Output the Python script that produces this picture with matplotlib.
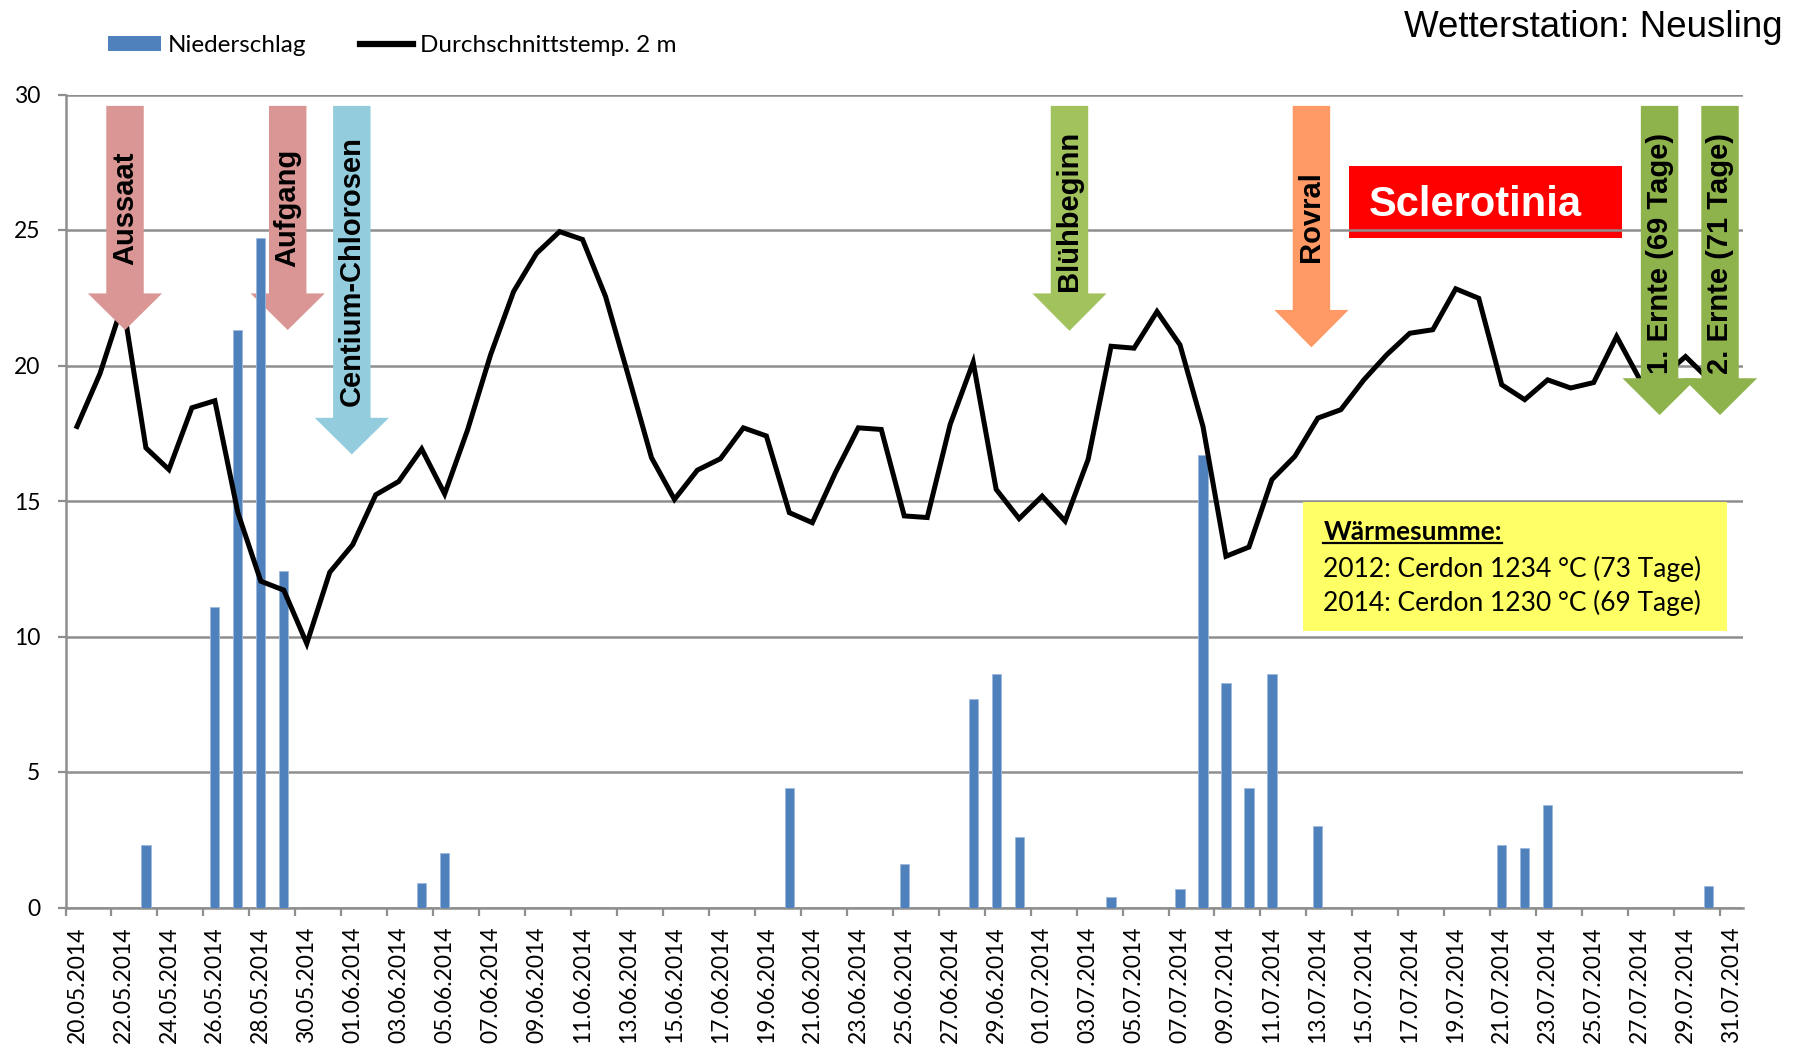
import matplotlib
matplotlib.use("Agg")
import matplotlib.pyplot as plt
import numpy as np
import pandas as pd
from matplotlib.patches import FancyArrow, Rectangle, Patch
from matplotlib.lines import Line2D
from matplotlib.transforms import IdentityTransform

# ---------------- data ----------------
dates = [d.strftime("%d.%m.%Y") for d in pd.date_range("2014-05-20", "2014-07-31", freq="D")]

niederschlag = [
    0, 0, 0, 2.3, 0, 0, 11.1, 21.3, 24.7, 12.4,          # 20.05-29.05
    0, 0, 0, 0, 0, 0.9, 2.0, 0, 0, 0,                    # 30.05-08.06
    0, 0, 0, 0, 0, 0, 0, 0, 0, 0,                        # 09.06-18.06
    0, 4.4, 0, 0, 0, 0, 1.6, 0, 0, 7.7,                  # 19.06-28.06
    8.6, 2.6, 0, 0, 0, 0.4, 0, 0, 0.7, 16.7,             # 29.06-08.07
    8.3, 4.4, 8.6, 0, 3.0, 0, 0, 0, 0, 0,                # 09.07-18.07
    0, 0, 2.3, 2.2, 3.8, 0, 0, 0, 0, 0,                  # 19.07-28.07
    0, 0.8, 0                                            # 29.07-31.07
]

temperatur = [
    17.75, 19.7, 22.3, 16.96, 16.16, 18.44, 18.7, 14.57, 12.04, 11.71,
    9.74, 12.37, 13.39, 15.23, 15.72, 16.92, 15.26, 17.63, 20.4, 22.73,
    24.14, 24.94, 24.65, 22.55, 19.6, 16.6, 15.06, 16.14, 16.56, 17.7,
    17.4, 14.57, 14.2, 16.04, 17.7, 17.64, 14.45, 14.39, 17.83, 20.12,
    15.43, 14.35, 15.18, 14.26, 16.53, 20.71, 20.64, 21.99, 20.76, 17.75,
    12.96, 13.3, 15.79, 16.65, 18.06, 18.37, 19.47, 20.4, 21.19, 21.32,
    22.83, 22.48, 19.29, 18.74, 19.47, 19.17, 19.37, 21.07, 19.5, 19.6,
    20.33, 19.5, 19.8
]

serien = ["Niederschlag", "Durchschnittstemp. 2 m"]
y_ticks = [0, 5, 10, 15, 20, 25, 30]

# event arrows: label, x position (category index), tip value, head start value, colour
pfeil_labels = ["Aussaat", "Aufgang", "Centium-Chlorosen", "Blühbeginn", "Rovral",
                "1. Ernte (69 Tage)", "2. Ernte (71 Tage)"]
pfeil_x = [2.09, 9.17, 11.96, 43.19, 53.72, 68.87, 71.5]
pfeil_tip = [21.31, 21.31, 16.72, 21.28, 20.67, 18.17, 18.17]
pfeil_head = [22.66, 22.66, 18.07, 22.66, 22.05, 19.53, 19.53]
pfeil_text_y = [25.8, 25.8, 23.5, 25.7, 25.5, 24.15, 24.15]
pfeil_farben = ["#D99694", "#D99694", "#93CDDD", "#A2C25E", "#FF9966", "#8FB34C", "#8FB34C"]
pfeil_z = [5, 2.5, 5, 5, 5, 5, 5]

titel = "Wetterstation: Neusling"
waerme_titel = "Wärmesumme:"
waerme_zeilen = ["2012: Cerdon 1234 °C (73 Tage)", "2014: Cerdon 1230 °C (69 Tage)"]

# ---------------- figure ----------------
W, H = 1796, 1052
fig = plt.figure(figsize=(W / 100, H / 100), dpi=100)
ax = fig.add_axes([65.5 / W, 1 - 907.5 / H, (1743 - 65.5) / W, (907.5 - 94.5) / H])

grid_c = "#8E8E8E"
x = np.arange(len(dates))
ax.set_xlim(-0.5, len(dates) - 0.5)
ax.set_ylim(0, 30)

ax.bar(x, niederschlag, width=0.4, color="#4F81BD", edgecolor="#9DB9DC", linewidth=0.6, zorder=3)
ax.plot(x, temperatur, color="black", lw=3.6, zorder=4, solid_joinstyle="miter")

# grid & spines
ax.set_yticks(y_ticks)
ax.yaxis.grid(True, color=grid_c, lw=1.8)
ax.set_axisbelow(True)
for s in ["top", "right"]:
    ax.spines[s].set_visible(False)
for s in ["left", "bottom"]:
    ax.spines[s].set_color(grid_c)
    ax.spines[s].set_linewidth(1.8)

tick_font = "Lato"
ax.tick_params(axis="y", length=6, width=1.6, color=grid_c, labelsize=16.5, pad=12)
for lab in ax.get_yticklabels():
    lab.set_family(tick_font)

ax.set_xticks(np.arange(-0.5, len(dates) - 1, 2))
ax.set_xticklabels([])
ax.tick_params(axis="x", which="major", length=6, width=1.6, color=grid_c)
ax.set_xticks(x[::2], minor=True)
ax.set_xticklabels(dates[::2], minor=True, rotation=90, fontsize=16.5, family=tick_font)
ax.tick_params(axis="x", which="minor", length=0, pad=13.5)

# red Sclerotinia box (behind grid lines)
ax.add_patch(Rectangle((55.36, 24.72), 67.24 - 55.36, 27.37 - 24.72, facecolor="#FF0000",
                       edgecolor="none", zorder=0.3))
ax.text(56.23, 25.5, "Sclerotinia", color="white", fontsize=30, fontweight="bold",
        family="Liberation Sans", va="baseline", ha="left", zorder=0.35)

# arrows
for lab, px, tip, head, ty, col, z in zip(pfeil_labels, pfeil_x, pfeil_tip, pfeil_head,
                                          pfeil_text_y, pfeil_farben, pfeil_z):
    top = 29.58
    arr = FancyArrow(px, top, 0, tip - top, width=1.63, head_width=3.23,
                     head_length=head - tip, length_includes_head=True,
                     facecolor=col, edgecolor="none", zorder=z, clip_on=False)
    ax.add_patch(arr)
    ax.text(px, ty, lab, rotation=90, ha="center", va="center", fontsize=21,
            fontweight="bold", family="Liberation Sans", color="black", zorder=z + 0.1)

# yellow Wärmesumme box
ax.add_patch(Rectangle((53.37, 10.21), 71.8 - 53.37, 14.97 - 10.21, facecolor="#FFFF66",
                       edgecolor="none", zorder=6))
t_head = ax.text(54.24, 13.56, waerme_titel, fontsize=19, fontweight="bold", family=tick_font,
                 va="baseline", ha="left", zorder=7)
for yy, line in zip([12.2, 10.95], waerme_zeilen):
    ax.text(54.24, yy, line, fontsize=19, family=tick_font, va="baseline", ha="left", zorder=7)

# legend
handles = [Patch(facecolor="#4F81BD", edgecolor="none"),
           Line2D([], [], color="black", lw=4.5)]
fig.legend(handles, serien, loc="center left", bbox_to_anchor=(108 / W, 1 - 45.5 / H),
           ncol=2, frameon=False, handlelength=2.2, handleheight=0.6, handletextpad=0.27,
           columnspacing=2.2, borderpad=0, borderaxespad=0,
           prop={"family": tick_font, "size": 17.5})

fig.text(1783 / W, 1 - 37 / H, titel, ha="right", va="baseline", fontsize=26.5,
         family="Liberation Sans")

# underline of box heading
fig.canvas.draw()
bb = t_head.get_window_extent()
uy = bb.y0 + 1
fig.add_artist(Line2D([bb.x0, bb.x1], [uy, uy], color="black", lw=1.6,
                      transform=IdentityTransform(), zorder=8))

fig.savefig("out.png", dpi=100)
